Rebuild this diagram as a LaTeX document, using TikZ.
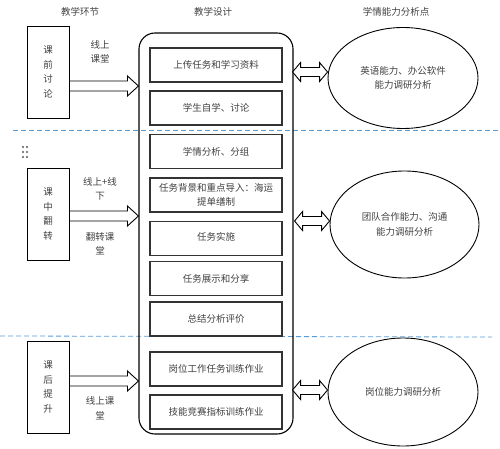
\documentclass[tikz,border=0pt]{standalone}
\usepackage{fontspec}
\newfontfamily\cjk{Noto Sans CJK SC}
\usetikzlibrary{shapes.geometric}
\definecolor{txt}{RGB}{64,64,64}
\definecolor{sep}{RGB}{91,155,213}

\begin{document}
\begin{tikzpicture}[x=1bp,y=-1bp,font=\cjk\fontsize{9.5bp}{14.5bp}\selectfont,text=txt,
	phase/.style={draw,line width=0.9bp,minimum width=42bp,minimum height=92bp,align=center,inner sep=0pt},
	task/.style={draw=black!80,line width=1.3bp,minimum width=132bp,minimum height=34bp,align=center,inner sep=1bp},
	skill/.style={draw,ellipse,line width=0.9bp,minimum width=150bp,minimum height=105bp,align=center,inner sep=0pt},
	fat/.style={draw,line width=0.9bp,fill=white},
	divider/.style={draw=sep,line width=0.8bp,dash pattern=on 5bp off 3bp}]
	\useasboundingbox (0,0) rectangle (500,449);

	\node (t1) at (80,12)	{教学环节};
	\node (t2) at (213,12)	{教学设计};
	\node (t3) at (396,12)	{学情能力分析点};

	\draw[divider]		(13,130) -- (500,130);
	\draw[divider]		(0,336) -- (492,337);

	\foreach \i in {23,27}
		\foreach \j in {147,152,157}
			\fill[black!65] (\i,\j) circle (1.2bp);

	% left column
	\node[phase] (k1) at (48,72)	{课\\前\\讨\\论};
	\node[phase] (k2) at (48,214)	{课\\中\\翻\\转};
	\node[phase] (k3) at (48,387)	{课\\后\\提\\升};

	% design frame and tasks
	\node[draw,line width=1.1bp,rounded corners=16bp,minimum width=154bp,minimum height=401bp] (design) at (216,233.5) {};
	\node[task] (ta) at (216,65)	{上传任务和学习资料};
	\node[task] (tb) at (216,108)	{学生自学、讨论};
	\node[task] (tc) at (216,151.5)	{学情分析、分组};
	\node[task] (td) at (216,195)	{任务背景和重点导入：海运\\提单缮制};
	\node[task] (te) at (216,238.5)	{\raisebox{5bp}{任务实施}};
	\node[task] (tf) at (216,278.5)	{任务展示和分享};
	\node[task] (tg) at (216,319)	{总结分析评价};
	\node[task] (th) at (216,369)	{岗位工作任务训练作业};
	\node[task] (ti) at (216,412)	{技能竞赛指标训练作业};

	% ellipses
	\node[skill,minimum height=101bp] (e1) at (403,78)	{英语能力、办公软件\\能力调研分析};
	\node[skill,minimum width=149bp,minimum height=107bp] (e2) at (404.5,224.5)	{团队合作能力、沟通\\能力调研分析};
	\node[skill,minimum height=108bp] (e3) at (403,392)	{岗位能力调研分析};

	% fat arrows
	\draw[fat]	([yshift=-9bp]k1.east) -- ++(58,0) -- ++(0,-5) -- ++(11,10) -- ++(-11,10) -- ++(0,-5) -- ++(-58,0) -- cycle;
	\draw[fat]	([yshift=3bp]k2.east) -- ++(58,0) -- ++(0,-5) -- ++(11,10) -- ++(-11,10) -- ++(0,-5) -- ++(-58,0) -- cycle;
	\draw[fat]	([yshift=11bp]k3.east) -- ++(58,0) -- ++(0,-5) -- ++(11,10) -- ++(-11,10) -- ++(0,-5) -- ++(-58,0) -- cycle;

	\node[align=center] (l1) at (100,52)	{线上\\课堂};
	\node[align=center] (l2) at (100,189)	{线上+线\\下};
	\node[align=center] (l3) at (100,244)	{翻转课\\堂};
	\node[align=center] (l4) at (100,408)	{线上课\\堂};

	% double arrows
	\draw[fat]	([yshift=6bp]e1.west) -- ++(-8,-9.5) -- ++(0,5) -- ++(-19,0) -- ++(0,-5) -- ++(-8,9.5)
				-- ++(8,9.5) -- ++(0,-5) -- ++(19,0) -- ++(0,5) -- cycle;
	\draw[fat]	([yshift=3.5bp]e2.west) -- ++(-8,-9.5) -- ++(0,5) -- ++(-19,0) -- ++(0,-5) -- ++(-8,9.5)
				-- ++(8,9.5) -- ++(0,-5) -- ++(19,0) -- ++(0,5) -- cycle;
	\draw[fat]	([yshift=2bp]e3.west) -- ++(-8,-9.5) -- ++(0,5) -- ++(-19,0) -- ++(0,-5) -- ++(-8,9.5)
				-- ++(8,9.5) -- ++(0,-5) -- ++(19,0) -- ++(0,5) -- cycle;

\end{tikzpicture}
\end{document}
